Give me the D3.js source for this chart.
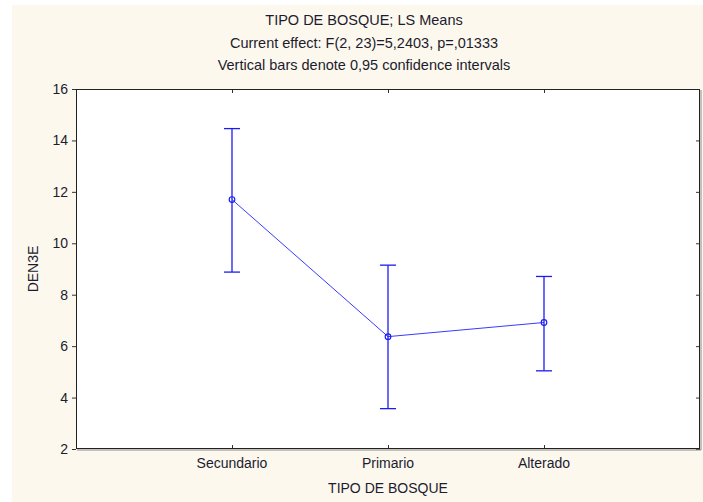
<!DOCTYPE html>
<html>
<head>
<meta charset="utf-8">
<script src="https://cdn.jsdelivr.net/npm/d3@7"></script>
<style>
  html, body { margin: 0; padding: 0; background: #ffffff; }
  svg { display: block; }
  text { font-family: "Liberation Sans", Arial, sans-serif; fill: #1c1c2e; }
</style>
</head>
<body>
<svg id="chart" width="703" height="502"></svg>
<script>
// LS means of DEN3E by forest type, with 95% confidence limits
const categories = ["Secundario", "Primario", "Alterado"];
const means = [11.70, 6.37, 6.92];
const lower = [8.88, 3.57, 5.04];
const upper = [14.46, 9.15, 8.71];
const yTicks = [2, 4, 6, 8, 10, 12, 14, 16];
const titleLines = [
  "TIPO DE BOSQUE; LS Means",
  "Current effect: F(2, 23)=5,2403, p=,01333",
  "Vertical bars denote 0,95 confidence intervals"
];
const xTitle = "TIPO DE BOSQUE";
const yTitle = "DEN3E";

const svg = d3.select("#chart");
const W = 703, H = 502;
const plot = { left: 76, right: 700, top: 89, bottom: 449 };
const fs = 14;

// cream panel behind everything
svg.append("rect").attr("x", 12).attr("y", 5).attr("width", W - 12).attr("height", H - 5)
  .attr("fill", "#fdf8ee");

// plot area
svg.append("rect").attr("x", plot.left).attr("y", plot.top)
  .attr("width", plot.right - plot.left).attr("height", plot.bottom - plot.top)
  .attr("fill", "#ffffff");

// categories sit at positions 1..n on a 0..n+1 scale
const xPos = d3.scaleLinear().domain([0, categories.length + 1]).range([plot.left, plot.right]);
const x = c => xPos(categories.indexOf(c) + 1);
const y = d3.scaleLinear().domain([2, 16]).range([plot.bottom, plot.top]);

// left axis (outward ticks)
const gL = svg.append("g").attr("transform", `translate(${plot.left},0)`)
  .call(d3.axisLeft(y).tickValues(yTicks).tickSize(4).tickPadding(4).tickFormat(d3.format("d")));
// right axis (inward ticks)
const gR = svg.append("g").attr("transform", `translate(${plot.right},0)`)
  .call(d3.axisLeft(y).tickValues(yTicks).tickSize(4).tickFormat(""));
// bottom axis (inward ticks)
const gB = svg.append("g").attr("transform", `translate(0,${plot.bottom})`)
  .call(d3.axisTop(xPos).tickValues(categories.map((c, i) => i + 1)).tickSize(4).tickFormat(""));
// top axis (inward ticks)
const gT = svg.append("g").attr("transform", `translate(0,${plot.top})`)
  .call(d3.axisBottom(xPos).tickValues(categories.map((c, i) => i + 1)).tickSize(4).tickFormat(""));

[gL, gR, gB, gT].forEach(g => {
  g.select(".domain").remove();
  g.selectAll(".tick line").attr("stroke", "#333");
  g.selectAll("text").attr("font-size", fs).style("fill", "#1c1c2e")
    .attr("font-family", "'Liberation Sans', Arial, sans-serif");
});

// category labels
svg.append("g").selectAll("text").data(categories).join("text")
  .attr("x", d => x(d)).attr("y", 468).attr("text-anchor", "middle")
  .attr("font-size", fs).text(d => d);

// frame with a soft shadow on right and bottom edges
svg.append("path")
  .attr("d", `M${plot.right + 1},${plot.top + 1}V${plot.bottom + 1}H${plot.left + 1}`)
  .attr("fill", "none").attr("stroke", "#8a8a8a").attr("stroke-width", 1);
svg.append("rect").attr("x", plot.left + 0.5).attr("y", plot.top + 0.5)
  .attr("width", plot.right - plot.left - 1).attr("height", plot.bottom - plot.top - 1)
  .attr("fill", "none").attr("stroke", "#222").attr("stroke-width", 1);

// titles, centred on the graph window
svg.append("g").selectAll("text").data(titleLines).join("text")
  .attr("x", 364).attr("y", (d, i) => 25 + i * 22.5)
  .attr("text-anchor", "middle").attr("font-size", 14.5).text(d => d);

svg.append("text").attr("x", (plot.left + plot.right) / 2).attr("y", 493)
  .attr("text-anchor", "middle").attr("font-size", fs).text(xTitle);

svg.append("text").attr("transform", `translate(38,${(plot.top + plot.bottom) / 2}) rotate(-90)`)
  .attr("text-anchor", "middle").attr("font-size", fs).text(yTitle);

const blue = "#1c1cf2";
const data = categories.map((c, i) => ({ c, m: means[i], lo: lower[i], hi: upper[i] }));

// line through the means
svg.append("path").datum(data)
  .attr("d", d3.line().x(d => x(d.c)).y(d => y(d.m)))
  .attr("fill", "none").attr("stroke", "#3a3aff").attr("stroke-width", 1);

// confidence interval whiskers
const eb = svg.append("g").attr("stroke", blue).attr("stroke-width", 1.3).attr("fill", "none");
eb.selectAll(".v").data(data).join("line")
  .attr("x1", d => x(d.c)).attr("x2", d => x(d.c))
  .attr("y1", d => y(d.lo)).attr("y2", d => y(d.hi));
eb.selectAll(".cu").data(data).join("line")
  .attr("x1", d => x(d.c) - 8).attr("x2", d => x(d.c) + 8)
  .attr("y1", d => y(d.hi)).attr("y2", d => y(d.hi));
eb.selectAll(".cl").data(data).join("line")
  .attr("x1", d => x(d.c) - 8).attr("x2", d => x(d.c) + 8)
  .attr("y1", d => y(d.lo)).attr("y2", d => y(d.lo));

// mean markers
svg.append("g").selectAll("circle").data(data).join("circle")
  .attr("cx", d => x(d.c)).attr("cy", d => y(d.m)).attr("r", 2.8)
  .attr("fill", "none").attr("stroke", blue).attr("stroke-width", 1.2);
</script>
</body>
</html>
